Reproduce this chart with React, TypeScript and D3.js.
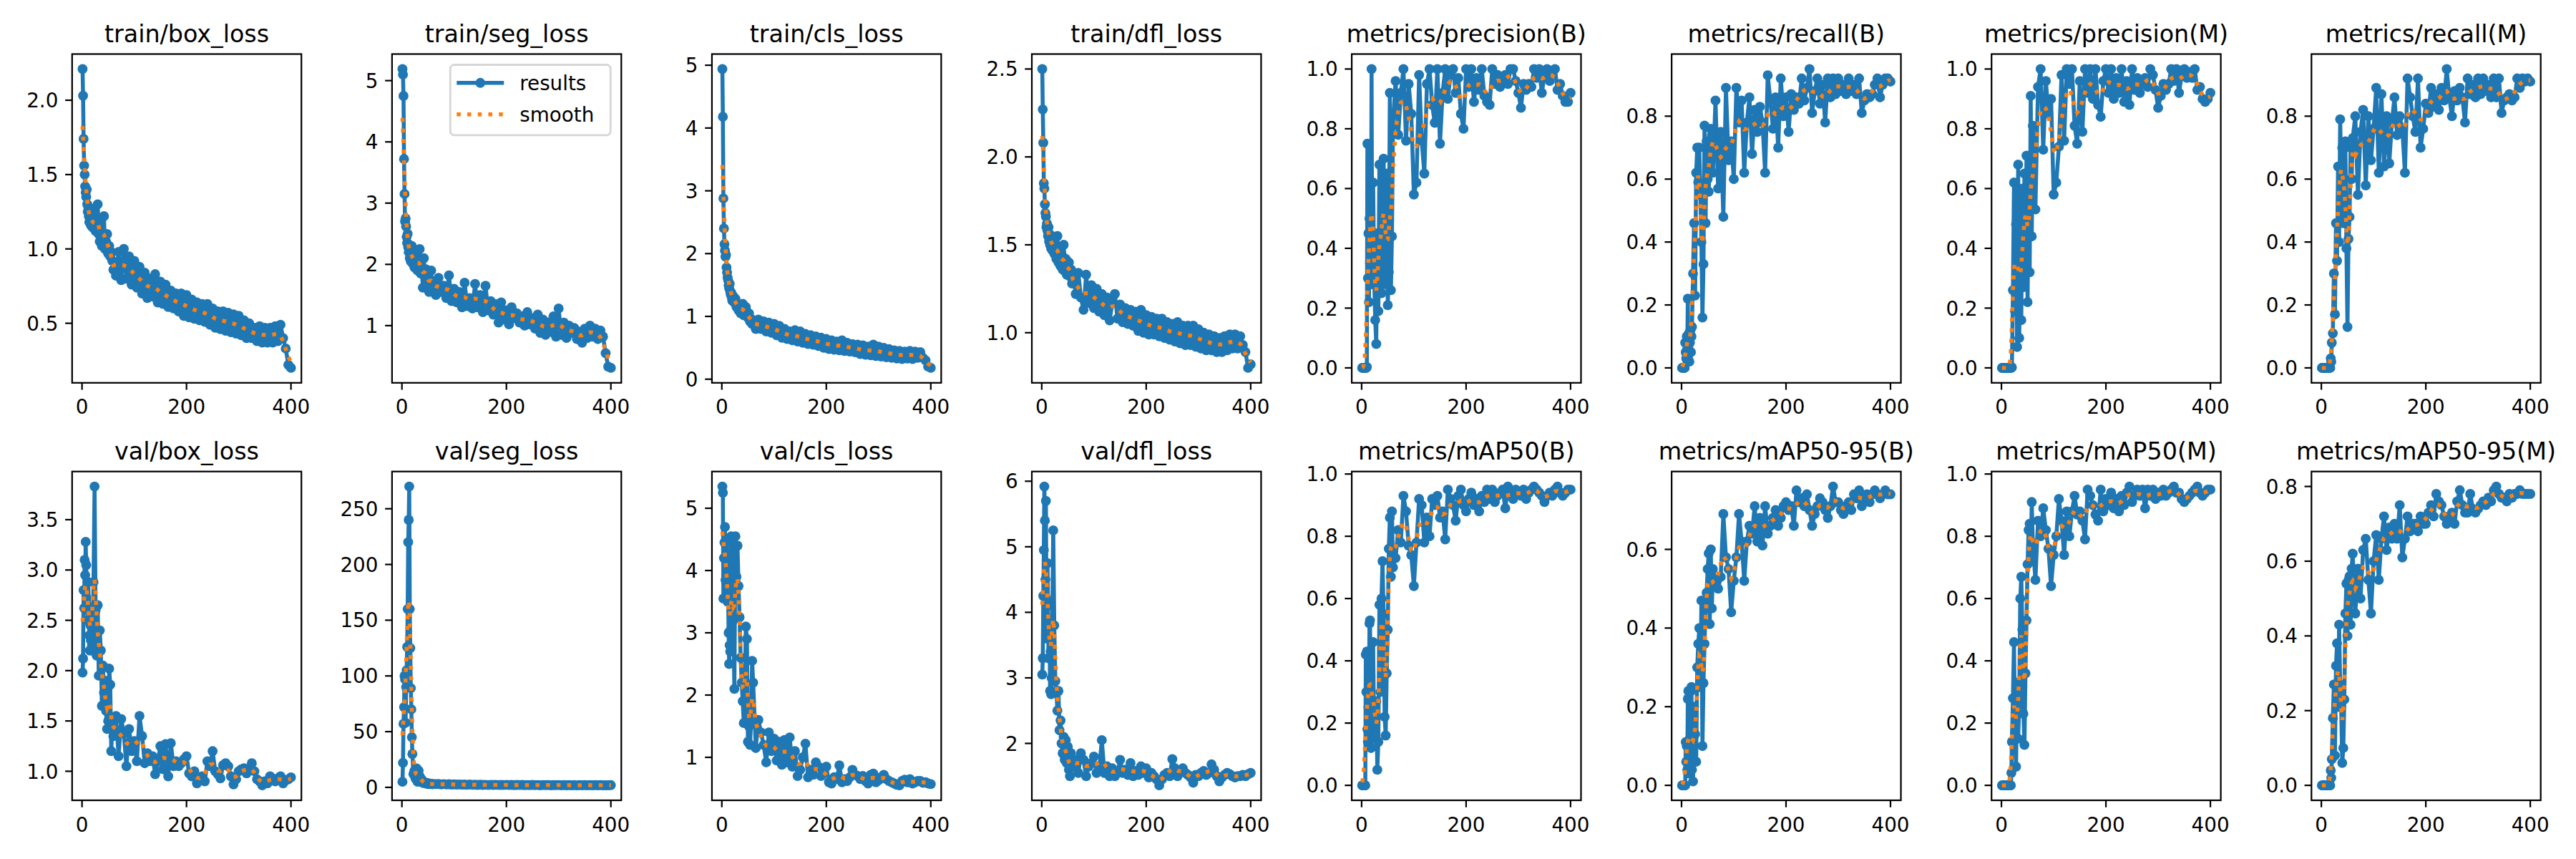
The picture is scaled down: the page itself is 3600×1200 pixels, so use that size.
import React from "react";
import * as d3 from "d3";

// ---------- data ----------
const EPOCHS = [
  1, 2, 3, 4, 5, 6, 7, 8, 9, 10, 11, 12, 13, 14, 15, 16, 17, 18, 19, 20,
  22, 24, 26, 28, 30, 32, 34, 36, 38, 40, 42, 44, 46, 48, 50, 52, 54, 56, 58, 60,
  65, 70, 75, 80, 85, 90, 95, 100, 105, 110, 115, 120, 125, 130, 135, 140,
  145, 150, 155, 160, 165, 170, 175, 180, 185, 190, 195, 200, 205, 210, 215, 220,
  225, 230, 235, 240, 245, 250, 255, 260, 265, 270, 275, 280, 285, 290, 295, 300,
  305, 310, 315, 320, 325, 330, 335, 340, 345, 350, 355, 360, 365, 370, 375, 380,
  385, 390, 395, 400,
];

const TITLES = [
  "train/box_loss", "train/seg_loss", "train/cls_loss", "train/dfl_loss",
  "metrics/precision(B)", "metrics/recall(B)", "metrics/precision(M)", "metrics/recall(M)",
  "val/box_loss", "val/seg_loss", "val/cls_loss", "val/dfl_loss",
  "metrics/mAP50(B)", "metrics/mAP50-95(B)", "metrics/mAP50(M)", "metrics/mAP50-95(M)",
];

const Y_TICKS = [
  ["0.5", "1.0", "1.5", "2.0"],
  ["1", "2", "3", "4", "5"],
  ["0", "1", "2", "3", "4", "5"],
  ["1.0", "1.5", "2.0", "2.5"],
  ["0.0", "0.2", "0.4", "0.6", "0.8", "1.0"],
  ["0.0", "0.2", "0.4", "0.6", "0.8"],
  ["0.0", "0.2", "0.4", "0.6", "0.8", "1.0"],
  ["0.0", "0.2", "0.4", "0.6", "0.8"],
  ["1.0", "1.5", "2.0", "2.5", "3.0", "3.5"],
  ["0", "50", "100", "150", "200", "250"],
  ["1", "2", "3", "4", "5"],
  ["2", "3", "4", "5", "6"],
  ["0.0", "0.2", "0.4", "0.6", "0.8", "1.0"],
  ["0.0", "0.2", "0.4", "0.6"],
  ["0.0", "0.2", "0.4", "0.6", "0.8", "1.0"],
  ["0.0", "0.2", "0.4", "0.6", "0.8"],
];

const X_TICKS = ["0", "200", "400"];

const trainBox = [
  2.21, 2.03, 1.74, 1.56, 1.50, 1.42, 1.38, 1.35, 1.40, 1.30, 1.25, 1.28, 1.22, 1.18, 1.24, 1.20, 1.16, 1.27, 1.15, 1.20,
  1.14, 1.22, 1.12, 1.18, 1.30, 1.10, 1.05, 1.20, 1.02, 1.08, 1.22, 1.00, 1.05, 1.10, 0.97, 1.02, 0.95, 0.98, 0.92, 0.86,
  0.82, 0.98, 0.79, 1.00, 0.80, 0.95, 0.76, 0.92,
  0.74, 0.88, 0.70, 0.84, 0.67, 0.80, 0.68, 0.83,
  0.64, 0.78, 0.63, 0.76, 0.61, 0.72, 0.60, 0.70,
  0.58, 0.70, 0.55, 0.69, 0.54, 0.66, 0.53, 0.64,
  0.52, 0.63, 0.51, 0.63, 0.49, 0.60, 0.47, 0.58,
  0.46, 0.58, 0.45, 0.57, 0.44, 0.56, 0.43, 0.55,
  0.42, 0.52, 0.40, 0.50, 0.40, 0.47, 0.38, 0.48,
  0.37, 0.47, 0.37, 0.47, 0.37, 0.48, 0.38, 0.49,
  0.40, 0.33, 0.22, 0.20,
];

const trainSeg = [
  5.19, 5.10, 4.75, 3.72, 3.15, 2.70, 2.75, 2.62, 2.45, 2.35, 2.50, 2.28, 2.20, 2.32, 2.10, 2.25, 2.05, 2.15, 2.30, 2.02,
  2.12, 1.95, 2.20, 2.05, 1.90, 2.00, 2.25, 1.85, 1.95, 1.62, 2.10, 1.80, 1.92, 1.70, 1.85, 1.55, 1.75, 1.90, 1.60, 1.72,
  1.50, 1.78, 1.55, 1.65, 1.45, 1.82, 1.40, 1.60,
  1.38, 1.55, 1.30, 1.70, 1.32, 1.45, 1.28, 1.68,
  1.30, 1.50, 1.22, 1.65, 1.25, 1.40, 1.18, 1.35,
  1.05, 1.38, 1.10, 1.25, 1.02, 1.30, 1.12, 1.20,
  1.05, 1.15, 1.00, 1.22, 1.02, 1.12, 0.95, 1.18,
  0.88, 1.10, 0.85, 1.05, 0.90, 1.15, 0.82, 1.28,
  0.85, 1.05, 0.80, 1.00, 0.88, 0.96, 0.78, 0.90,
  0.72, 0.95, 0.80, 1.00, 0.82, 0.95, 0.78, 0.92,
  0.82, 0.55, 0.33, 0.31,
];

const trainCls = [
  4.94, 4.18, 2.88, 2.40, 2.15, 2.05, 1.95, 1.98, 1.78, 1.70, 1.62, 1.58, 1.50, 1.45, 1.52, 1.40, 1.35, 1.38, 1.30, 1.25,
  1.32, 1.22, 1.28, 1.15, 1.20, 1.10, 1.18, 1.05, 1.12, 1.20, 1.02, 1.08, 1.15, 1.00, 0.98, 1.05, 0.92, 0.96, 0.88, 0.92,
  0.80, 0.95, 0.80, 0.92, 0.76, 0.90, 0.74, 0.88,
  0.70, 0.85, 0.66, 0.80, 0.64, 0.76, 0.62, 0.78,
  0.60, 0.76, 0.58, 0.72, 0.56, 0.70, 0.55, 0.68,
  0.53, 0.66, 0.50, 0.64, 0.48, 0.62, 0.47, 0.60,
  0.46, 0.62, 0.45, 0.58, 0.44, 0.56, 0.43, 0.55,
  0.40, 0.54, 0.39, 0.52, 0.38, 0.55, 0.37, 0.52,
  0.36, 0.50, 0.35, 0.48, 0.34, 0.46, 0.33, 0.45,
  0.32, 0.44, 0.33, 0.45, 0.32, 0.44, 0.34, 0.43,
  0.34, 0.30, 0.20, 0.18,
];

const trainDfl = [
  2.50, 2.27, 2.08, 1.85, 1.82, 1.73, 1.68, 1.66, 1.60, 1.62, 1.58, 1.55, 1.60, 1.52, 1.56, 1.50, 1.54, 1.48, 1.55, 1.47,
  1.52, 1.45, 1.50, 1.42, 1.55, 1.40, 1.48, 1.38, 1.45, 1.36, 1.50, 1.35, 1.42, 1.33, 1.38, 1.40, 1.32, 1.36, 1.28, 1.34,
  1.22, 1.34, 1.20, 1.13, 1.33, 1.17, 1.27, 1.14,
  1.25, 1.12, 1.22, 1.10, 1.20, 1.07, 1.17, 1.22,
  1.08, 1.16, 1.06, 1.14, 1.05, 1.13, 1.04, 1.12,
  1.01, 1.13, 1.00, 1.10, 0.99, 1.09, 0.99, 1.08,
  0.98, 1.08, 0.97, 1.06, 0.96, 1.05, 0.95, 1.06,
  0.94, 1.04, 0.93, 1.04, 0.93, 1.04, 0.92, 1.02,
  0.91, 1.00, 0.90, 0.99, 0.90, 0.98, 0.89, 0.97,
  0.89, 0.98, 0.90, 0.99, 0.91, 0.99, 0.91, 0.98,
  0.93, 0.89, 0.80, 0.82,
];

const precisionB = [
  0, 0, 0, 0, 0, 0, 0, 0, 0, 0.003, 0.75, 0.30, 0.45, 0.22, 0.50, 0.35, 0.62, 0.28, 1.00, 0.42,
  0.62, 0.30, 0.16, 0.08, 0.45, 0.19, 0.68, 0.38, 0.25, 0.62, 0.70, 0.45, 0.28, 0.65, 0.21, 0.32, 0.92, 0.26, 0.44, 0.81,
  0.96, 0.78, 0.92, 1.00, 0.76, 0.95, 0.85, 0.58,
  0.62, 0.98, 0.76, 0.65, 0.95, 1.00, 0.88, 0.82,
  1.00, 0.75, 0.92, 1.00, 0.90, 0.98, 1.00, 0.92,
  0.97, 0.85, 0.80, 1.00, 0.94, 1.00, 0.89, 0.97,
  0.93, 1.00, 0.91, 0.89, 0.88, 1.00, 0.95, 0.98,
  0.94, 0.96, 0.98, 0.95, 1.00, 1.00, 0.96, 0.92,
  0.87, 0.95, 0.93, 0.95, 0.94, 1.00, 0.97, 1.00,
  0.92, 0.98, 1.00, 0.96, 0.99, 1.00, 0.93, 0.95,
  0.91, 0.89, 0.89, 0.92,
];

const recallB = [
  0, 0, 0, 0, 0, 0, 0.08, 0.05, 0.03, 0.10, 0.06, 0.22, 0.04, 0.11, 0.02, 0.08, 0.12, 0.05, 0.10, 0.13,
  0.30, 0.46, 0.23, 0.62, 0.70, 0.59, 0.70, 0.55, 0.40, 0.16, 0.33, 0.77, 0.46, 0.72, 0.60, 0.56, 0.68, 0.76, 0.74, 0.62,
  0.85, 0.57, 0.75, 0.48, 0.89, 0.66, 0.72, 0.60,
  0.89, 0.78, 0.85, 0.62, 0.78, 0.86, 0.68, 0.82,
  0.75, 0.83, 0.78, 0.62, 0.93, 0.85, 0.76, 0.86,
  0.70, 0.92, 0.80, 0.86, 0.75, 0.87, 0.82, 0.86,
  0.84, 0.92, 0.85, 0.89, 0.95, 0.81, 0.88, 0.92,
  0.84, 0.90, 0.78, 0.92, 0.86, 0.92, 0.87, 0.92,
  0.88, 0.90, 0.87, 0.92, 0.88, 0.90, 0.87, 0.92,
  0.81, 0.85, 0.87, 0.86, 0.87, 0.90, 0.92, 0.86,
  0.90, 0.92, 0.92, 0.91,
];

const precisionM = [
  0, 0, 0, 0, 0, 0, 0, 0, 0, 0, 0, 0, 0, 0, 0, 0, 0, 0, 0, 0.002,
  0.26, 0.62, 0.19, 0.48, 0.07, 0.68, 0.10, 0.36, 0.16, 0.60, 0.27, 0.65, 0.45, 0.71, 0.22, 0.55, 0.32, 0.91, 0.44, 0.81,
  0.53, 0.94, 1.00, 0.73, 0.96, 0.85, 0.90, 0.58,
  0.62, 0.74, 0.98, 0.76, 1.00, 0.95, 1.00, 0.81,
  0.75, 0.96, 0.79, 1.00, 0.92, 1.00, 0.90, 1.00,
  0.88, 0.84, 0.96, 1.00, 0.92, 1.00, 0.90, 0.97,
  0.92, 1.00, 0.89, 0.96, 0.88, 1.00, 0.93, 0.97,
  0.92, 0.95, 0.97, 0.94, 1.00, 0.98, 0.93, 0.87,
  0.91, 0.95, 0.93, 0.95, 1.00, 0.96, 1.00, 0.92,
  0.98, 1.00, 0.97, 0.99, 0.97, 1.00, 0.93, 0.94,
  0.90, 0.89, 0.90, 0.92,
];

const recallM = [
  0, 0, 0, 0, 0, 0, 0, 0, 0, 0, 0, 0, 0, 0, 0, 0, 0, 0.03, 0.02, 0.08,
  0.11, 0.30, 0.17, 0.46, 0.34, 0.64, 0.40, 0.79, 0.62, 0.70, 0.46, 0.60, 0.72, 0.38, 0.13, 0.41, 0.48, 0.70, 0.60, 0.73,
  0.80, 0.55, 0.75, 0.82, 0.58, 0.80, 0.66, 0.76,
  0.89, 0.62, 0.87, 0.64, 0.80, 0.65, 0.78, 0.86,
  0.74, 0.80, 0.76, 0.62, 0.92, 0.86, 0.80, 0.75,
  0.92, 0.70, 0.76, 0.84, 0.81, 0.89, 0.83, 0.87,
  0.82, 0.89, 0.85, 0.95, 0.86, 0.80, 0.88, 0.85,
  0.89, 0.86, 0.78, 0.92, 0.87, 0.90, 0.86, 0.92,
  0.87, 0.92, 0.88, 0.90, 0.86, 0.92, 0.86, 0.92,
  0.81, 0.85, 0.86, 0.87, 0.85, 0.86, 0.92, 0.89,
  0.92, 0.91, 0.92, 0.91,
];

const valBox = [
  1.98, 2.12, 2.80, 2.62, 3.10, 2.95, 3.28, 3.05, 2.72, 2.65, 2.50, 2.88, 2.60, 2.35, 2.20, 2.45, 2.30, 2.50, 2.25, 2.20,
  2.88, 3.83, 2.60, 2.15, 2.65, 1.95, 2.40, 2.20, 1.65, 2.05, 1.78, 1.90, 1.60, 1.42, 1.50, 2.02, 1.86, 1.20, 1.50, 1.35,
  1.55, 1.15, 1.52, 1.38, 1.05, 1.42, 1.20, 1.30,
  1.10, 1.55, 1.35, 1.08, 1.18, 1.10, 1.15, 0.97,
  1.10, 1.25, 1.02, 1.27, 0.95, 1.28, 1.05, 1.10,
  1.05, 1.08, 1.12, 1.15, 0.98, 0.95, 1.00, 0.88,
  0.92, 0.95, 0.90, 1.10, 1.05, 1.20, 1.00, 0.97,
  0.93, 1.06, 1.08, 1.05, 0.95, 0.87, 0.92, 1.00,
  1.02, 1.03, 0.98, 1.02, 1.08, 1.00, 0.92, 0.90,
  0.86, 0.90, 0.88, 0.95, 0.92, 0.90, 0.93, 0.95,
  0.88, 0.91, 0.92, 0.94,
];

const valSeg = [
  5, 22, 57, 72, 100, 97, 58, 90, 105, 126, 160, 220, 240, 270, 160, 125, 89, 70, 45, 30,
  12, 15, 8, 17, 5, 15, 10, 6, 7, 4, 5, 4, 3.5, 4, 3, 3.5, 3, 3.2, 2.8, 3,
  2.9, 3.0, 2.7, 2.9, 2.6, 2.8, 2.5, 2.7,
  2.5, 2.6, 2.4, 2.5, 2.3, 2.6, 2.3, 2.4,
  2.2, 2.4, 2.2, 2.3, 2.1, 2.3, 2.2, 2.3,
  2.1, 2.2, 2.1, 2.3, 2.1, 2.2, 2.0, 2.2,
  2.1, 2.2, 2.0, 2.1, 2.0, 2.2, 2.0, 2.1,
  1.9, 2.1, 2.0, 2.1, 1.9, 2.0, 2.0, 2.1,
  1.9, 2.0, 1.9, 2.0, 1.9, 2.0, 1.8, 2.0,
  1.9, 2.0, 1.9, 2.0, 1.9, 2.0, 1.9, 2.0,
  1.9, 1.9, 1.9, 2.0,
];

const valCls = [
  5.35, 5.25, 3.55, 4.20, 4.45, 4.70, 3.85, 4.45, 3.60, 4.50, 3.50, 3.65, 3.00, 2.50, 2.80, 2.70, 3.05, 4.55, 4.30, 4.20,
  3.20, 2.10, 4.55, 3.90, 4.40, 3.75, 3.25, 2.60, 2.20, 1.90, 1.55, 2.20, 3.10, 2.90, 1.25, 1.50, 1.20, 1.60, 2.55, 2.20,
  1.15, 1.60, 1.40, 1.20, 0.92, 1.40, 1.10, 1.30,
  0.95, 1.25, 0.88, 1.28, 0.92, 1.32, 0.85, 1.10,
  0.70, 0.80, 1.00, 1.22, 0.68, 0.80, 0.72, 0.92,
  0.85, 0.70, 0.75, 0.85, 0.60, 0.58, 0.68, 0.65,
  0.87, 0.60, 0.65, 0.62, 0.68, 0.80, 0.72, 0.70,
  0.65, 0.70, 0.62, 0.58, 0.72, 0.74, 0.60, 0.63,
  0.68, 0.72, 0.65, 0.62, 0.60, 0.58, 0.56, 0.55,
  0.62, 0.64, 0.60, 0.65, 0.58, 0.60, 0.62, 0.62,
  0.59, 0.60, 0.58, 0.57,
];

const valDfl = [
  3.05, 3.30, 4.25, 4.95, 5.92, 5.40, 4.50, 5.70, 4.20, 3.60, 4.75, 4.10, 3.30, 3.90, 3.70, 2.80, 3.40, 2.75, 3.00, 3.80,
  5.25, 3.80, 2.95, 2.80, 2.50, 2.80, 2.20, 2.35, 2.00, 1.85, 2.10, 1.75, 2.05, 1.70, 1.95, 1.60, 1.50, 1.85, 1.70, 1.65,
  1.75, 1.55, 1.85, 1.75, 1.50, 1.65, 1.70, 1.80,
  1.55, 1.60, 2.05, 1.55, 1.65, 1.50, 1.62, 1.50,
  1.55, 1.75, 1.55, 1.60, 1.52, 1.70, 1.50, 1.58,
  1.52, 1.65, 1.55, 1.62, 1.48, 1.55, 1.50, 1.45,
  1.36, 1.45, 1.52, 1.55, 1.50, 1.76, 1.62, 1.50,
  1.58, 1.62, 1.55, 1.52, 1.48, 1.40, 1.52, 1.50,
  1.55, 1.58, 1.52, 1.55, 1.68, 1.60, 1.50, 1.42,
  1.48, 1.52, 1.55, 1.53, 1.50, 1.48, 1.50, 1.50,
  1.52, 1.50, 1.53, 1.55,
];

const mAP50B = [
  0, 0, 0, 0, 0, 0, 0, 0.42, 0.30, 0.43, 0.18, 0.14, 0.25, 0.30, 0.52, 0.53, 0.35, 0.12, 0.20, 0.22,
  0.46, 0.15, 0.20, 0.27, 0.05, 0.14, 0.58, 0.30, 0.60, 0.72, 0.55, 0.22, 0.16, 0.36, 0.50, 0.76, 0.86, 0.67, 0.88, 0.70,
  0.73, 0.82, 0.78, 0.93, 0.88, 0.77, 0.74, 0.64,
  0.78, 0.92, 0.90, 0.78, 0.86, 0.80, 0.92, 0.90,
  0.93, 0.86, 0.88, 0.79, 0.95, 0.92, 0.90, 0.85,
  0.93, 0.95, 0.90, 0.88, 0.92, 0.94, 0.90, 0.92,
  0.88, 0.93, 0.91, 0.95, 0.92, 0.95, 0.91, 0.93,
  0.94, 0.95, 0.89, 0.96, 0.93, 0.92, 0.95, 0.94,
  0.93, 0.95, 0.92, 0.94, 0.95, 0.96, 0.95, 0.94,
  0.93, 0.91, 0.93, 0.94, 0.93, 0.95, 0.96, 0.94,
  0.93, 0.94, 0.95, 0.95,
];

const mAP5095B = [
  0, 0, 0, 0, 0, 0, 0, 0.11, 0.06, 0.10, 0.04, 0.22, 0.24, 0.06, 0.03, 0.12, 0.08, 0.24, 0.25, 0.04,
  0.01, 0.20, 0.13, 0.06, 0.30, 0.36, 0.40, 0.25, 0.47, 0.10, 0.26, 0.36, 0.45, 0.49, 0.55, 0.59, 0.41, 0.60, 0.45, 0.55,
  0.52, 0.50, 0.53, 0.69, 0.58, 0.55, 0.44, 0.52,
  0.58, 0.69, 0.62, 0.52, 0.62, 0.66, 0.64, 0.71,
  0.62, 0.68, 0.61, 0.71, 0.64, 0.66, 0.68, 0.70,
  0.66, 0.68, 0.71, 0.72, 0.70, 0.71, 0.66, 0.75,
  0.72, 0.73, 0.71, 0.74, 0.70, 0.66, 0.69, 0.71,
  0.73, 0.72, 0.70, 0.68, 0.71, 0.76, 0.72, 0.72,
  0.70, 0.69, 0.71, 0.72, 0.70, 0.74, 0.73, 0.75,
  0.71, 0.73, 0.74, 0.72, 0.74, 0.75, 0.74, 0.73,
  0.74, 0.75, 0.74, 0.74,
];

const mAP50M = [
  0, 0, 0, 0, 0, 0, 0, 0, 0, 0, 0, 0, 0, 0, 0, 0, 0, 0, 0.04, 0.14,
  0.28, 0.46, 0.17, 0.06, 0.33, 0.15, 0.26, 0.60, 0.67, 0.50, 0.23, 0.13, 0.36, 0.53, 0.71, 0.82, 0.84, 0.72, 0.91, 0.78,
  0.66, 0.85, 0.80, 0.89, 0.82, 0.76, 0.64, 0.74,
  0.80, 0.92, 0.85, 0.74, 0.88, 0.80, 0.88, 0.93,
  0.87, 0.88, 0.85, 0.79, 0.95, 0.93, 0.90, 0.87,
  0.85, 0.95, 0.88, 0.92, 0.90, 0.94, 0.89, 0.92,
  0.88, 0.93, 0.90, 0.94, 0.96, 0.91, 0.93, 0.95,
  0.93, 0.95, 0.89, 0.95, 0.93, 0.95, 0.92, 0.94,
  0.93, 0.95, 0.93, 0.94, 0.95, 0.96, 0.94, 0.94,
  0.92, 0.91, 0.92, 0.93, 0.94, 0.95, 0.96, 0.94,
  0.93, 0.94, 0.95, 0.95,
];

const mAP5095M = [
  0, 0, 0, 0, 0, 0, 0, 0, 0, 0, 0, 0, 0, 0, 0, 0, 0, 0.04, 0.02, 0.07,
  0.18, 0.27, 0.08, 0.32, 0.38, 0.21, 0.43, 0.27, 0.21, 0.06, 0.10, 0.23, 0.46, 0.54, 0.40, 0.55, 0.56, 0.43, 0.58, 0.62,
  0.46, 0.58, 0.50, 0.63, 0.66, 0.55, 0.46, 0.60,
  0.67, 0.55, 0.66, 0.72, 0.63, 0.69, 0.66, 0.70,
  0.66, 0.75, 0.61, 0.66, 0.72, 0.68, 0.70, 0.70,
  0.68, 0.72, 0.70, 0.70, 0.73, 0.75, 0.72, 0.78,
  0.76, 0.75, 0.72, 0.70, 0.72, 0.73, 0.70, 0.76,
  0.79, 0.75, 0.73, 0.73, 0.78, 0.74, 0.73, 0.74,
  0.75, 0.76, 0.75, 0.77, 0.76, 0.79, 0.80, 0.78,
  0.77, 0.77, 0.76, 0.78, 0.77, 0.78, 0.78, 0.79,
  0.78, 0.78, 0.78, 0.78,
];

const SERIES = [
  trainBox, trainSeg, trainCls, trainDfl, precisionB, recallB, precisionM, recallM,
  valBox, valSeg, valCls, valDfl, mAP50B, mAP5095B, mAP50M, mAP5095M,
];

// ---------- layout / style ----------
const W = 3600;
const H = 1200;
const AX_LEFT0 = 100.8;
const AX_STEP = 447.07;
const AX_W = 320.4;
const ROW_TOP = [75.5, 658.7];
const AX_H = 459.3;
const TICK_FS = 27.78;
const TITLE_FS = 33.33;
const BLUE = "#1f77b4";
const ORANGE = "#ff7f0e";
const FONT = "DejaVu Sans, Liberation Sans, sans-serif";
const LW = 5.56;
const SPINE = 2.22;
const TICK_LEN = 9.72;
const TICK_PAD = 9.72;

function gaussSmooth(xs: number[], ys: number[]): number[] {
  const sp = xs.map((v, k) => (k === 0 ? xs[1] - xs[0] : xs[k] - xs[k - 1]));
  return xs.map((xi, i) => {
    const sig = Math.max(3, sp[i] * 1.4);
    let sw = 0;
    let s = 0;
    for (let j = 0; j < xs.length; j++) {
      const d = xs[j] - xi;
      if (Math.abs(d) > 4 * sig) continue;
      const w = Math.exp((-d * d) / (2 * sig * sig)) * sp[j];
      sw += w;
      s += w * ys[j];
    }
    return s / sw;
  });
}

function Panel({ i }: { i: number }) {
  const col = i % 8;
  const row = Math.floor(i / 8);
  const x0 = AX_LEFT0 + AX_STEP * col;
  const y0 = ROW_TOP[row];
  const ys = SERIES[i];
  const [mn, mx] = d3.extent(ys) as [number, number];
  const pad = (mx - mn) * 0.05;
  const y = d3.scaleLinear().domain([mn - pad, mx + pad]).range([y0 + AX_H, y0]);
  const [ex0, ex1] = d3.extent(EPOCHS) as [number, number];
  const xpad = (ex1 - ex0) * 0.05;
  const x = d3.scaleLinear().domain([ex0 - xpad, ex1 + xpad]).range([x0, x0 + AX_W]);
  const line = d3
    .line<number>()
    .x((d, k) => x(EPOCHS[k]))
    .y((d) => y(d));
  const sm = gaussSmooth(EPOCHS, ys);
  const clipId = `clip${i}`;
  const bottom = y0 + AX_H;

  let legend = null;
  if (i === 1) {
    const lw = 224;
    const lh = 98.3;
    const lx = x0 + AX_W - 15 - lw;
    const ly = y0 + 15;
    const r1 = ly + 25.3;
    const r2 = ly + 69.3;
    legend = (
      <g>
        <rect x={lx} y={ly} width={lw} height={lh} rx={5.6} ry={5.6} fill="white" fillOpacity={0.8}
          stroke="#cccccc" strokeOpacity={0.8} strokeWidth={2.78} />
        <line x1={lx + 9} x2={lx + 75} y1={r1} y2={r1} stroke={BLUE} strokeWidth={LW} />
        <circle cx={lx + 42} cy={r1} r={6.95} fill={BLUE} />
        <text x={lx + 97} y={r1 + 10} fontSize={TICK_FS} fontFamily={FONT}>results</text>
        <line x1={lx + 9} x2={lx + 75} y1={r2} y2={r2} stroke={ORANGE} strokeWidth={LW}
          strokeDasharray="5.56 9.17" />
        <text x={lx + 97} y={r2 + 10} fontSize={TICK_FS} fontFamily={FONT}>smooth</text>
      </g>
    );
  }

  return (
    <g>
      <defs>
        <clipPath id={clipId}>
          <rect x={x0} y={y0} width={AX_W} height={AX_H} />
        </clipPath>
      </defs>
      <g clipPath={`url(#${clipId})`}>
        <path d={line(ys) || ""} fill="none" stroke={BLUE} strokeWidth={LW} strokeLinejoin="round" />
        {ys.map((v, k) => (
          <circle key={k} cx={x(EPOCHS[k])} cy={y(v)} r={6.95} fill={BLUE} />
        ))}
        <path d={line(sm) || ""} fill="none" stroke={ORANGE} strokeWidth={LW} strokeDasharray="5.56 9.17" />
      </g>
      <rect x={x0} y={y0} width={AX_W} height={AX_H} fill="none" stroke="black" strokeWidth={SPINE} />
      {Y_TICKS[i].map((lab) => {
        const yy = y(+lab);
        return (
          <g key={lab}>
            <line x1={x0 - TICK_LEN} x2={x0} y1={yy} y2={yy} stroke="black" strokeWidth={SPINE} />
            <text x={x0 - TICK_LEN - TICK_PAD} y={yy + 10.1} textAnchor="end" fontSize={TICK_FS} fontFamily={FONT}>
              {lab}
            </text>
          </g>
        );
      })}
      {X_TICKS.map((lab) => {
        const xx = x(+lab);
        return (
          <g key={lab}>
            <line x1={xx} x2={xx} y1={bottom} y2={bottom + TICK_LEN} stroke="black" strokeWidth={SPINE} />
            <text x={xx} y={bottom + 43.5} textAnchor="middle" fontSize={TICK_FS} fontFamily={FONT}>
              {lab}
            </text>
          </g>
        );
      })}
      <text x={x0 + AX_W / 2} y={y0 - 17} textAnchor="middle" fontSize={TITLE_FS} fontFamily={FONT}>
        {TITLES[i]}
      </text>
      {legend}
    </g>
  );
}

export default function App() {
  return (
    <svg width={W} height={H} viewBox={`0 0 ${W} ${H}`}
      style={{ position: "absolute", left: 0, top: 0, background: "white" }}>
      <rect x={0} y={0} width={W} height={H} fill="white" />
      {SERIES.map((s, i) => (
        <Panel key={i} i={i} />
      ))}
    </svg>
  );
}
